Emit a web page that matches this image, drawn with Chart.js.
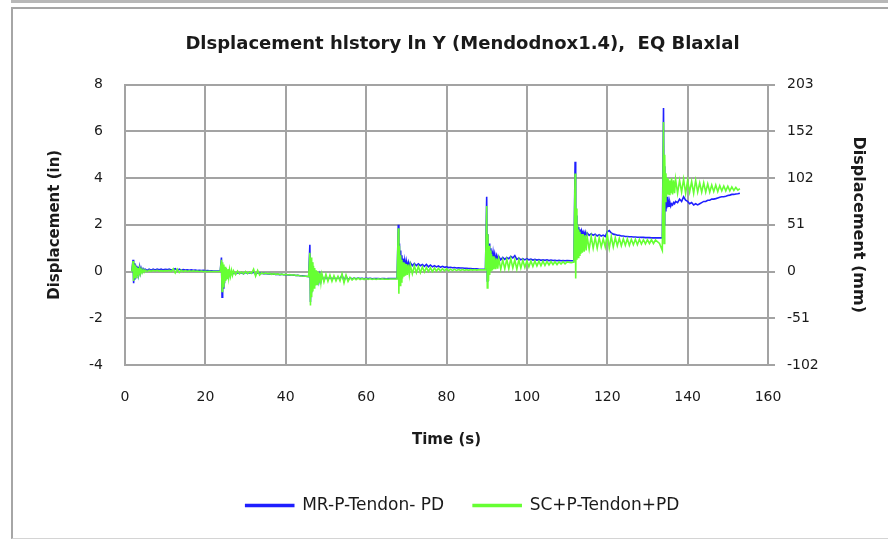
<!DOCTYPE html>
<html>
<head>
<meta charset="utf-8">
<script src="https://cdn.jsdelivr.net/npm/chart.js@4.4.1/dist/chart.umd.min.js"></script>
<style>
  html, body { margin: 0; padding: 0; background: #ffffff; }
  #wrap { position: relative; width: 888px; height: 540px; overflow: hidden; background: #ffffff; }
  #band { position: absolute; left: 11px; top: 0; right: 0; height: 3px; background: #b8b8b8; }
  #frame { position: absolute; left: 11px; top: 7px; width: 890px; height: 529px;
           border-left: 2px solid #a6a6a6; border-top: 2px solid #a6a6a6; border-bottom: 1px solid #d4d4d4; }
  canvas { position: absolute; left: 0; top: 0; }
</style>
</head>
<body>
<div id="wrap">
  <div id="band"></div>
  <div id="frame"></div>
  <canvas id="c" width="888" height="540"></canvas>
</div>
<script>
// ---- DATA ----
const titleText = 'Dlsplacement hlstory ln Y (Mendodnox1.4),  EQ Blaxlal';
const seriesNames = ['MR-P-Tendon- PD', 'SC+P-Tendon+PD'];
const xTicks = [0, 20, 40, 60, 80, 100, 120, 140, 160];
const leftTicks = [-4, -2, 0, 2, 4, 6, 8];
const rightTickLabels = ['-102', '-51', '0', '51', '102', '152', '203'];

// start time (s) of each shaking event
const eventStarts = [2, 24, 46, 68, 90, 112, 134];
// time offsets (s) from an event start at which values were read
const offsets = [-0.3, 0, 0.15, 0.3, 0.45, 0.6, 0.75, 0.9, 1.05, 1.2, 1.4, 1.6, 1.8, 2.0, 2.25, 2.5, 2.75, 3.0, 3.5, 4.0, 4.5,
                 5, 5.5, 6, 6.5, 7, 7.5, 8, 8.5, 9, 9.5, 10, 10.5, 11, 11.5, 12, 12.5, 13, 13.5, 14, 14.5,
                 15, 15.5, 16, 16.5, 17, 17.5, 18, 18.5, 19, 19.5, 20, 21];

// MR-P-Tendon- PD displacement (in), one array per event
const mr1 = [0.02, 0.5, -0.5, 0.35, -0.35, 0.3, -0.25, 0.25, -0.15, 0.2, -0.1, 0.18, -0.05, 0.15, 0.0, 0.12, 0.03, 0.1, 0.05, 0.1, 0.06,
             0.1, 0.07, 0.1, 0.08, 0.1, 0.07, 0.09, 0.08, 0.1, 0.07, 0.09, 0.12, 0.04, 0.1, 0.06, 0.08, 0.06, 0.07, 0.05, 0.07,
             0.05, 0.06, 0.04, 0.05, 0.04, 0.05, 0.03, 0.04, 0.03, 0.03, 0.02, 0.02];
const mr2 = [0.02, 0.6, -1.1, 0.2, -0.7, 0.1, -0.5, 0.05, -0.35, 0.02, -0.25, 0.0, -0.2, -0.02, -0.15, -0.03, -0.12, -0.04, -0.1, -0.05, -0.08,
             -0.05, -0.1, -0.04, -0.08, -0.05, -0.07, -0.02, -0.12, -0.05, -0.08, -0.07, -0.09, -0.08, -0.1, -0.09, -0.11, -0.1, -0.12, -0.11, -0.13,
             -0.12, -0.14, -0.13, -0.15, -0.14, -0.16, -0.15, -0.17, -0.16, -0.18, -0.18, -0.2];
const mr3 = [-0.22, 1.15, -1.3, 0.4, -0.9, 0.2, -0.7, 0.1, -0.55, 0.0, -0.5, -0.05, -0.45, -0.1, -0.42, -0.15, -0.4, -0.18, -0.38, -0.2, -0.36,
             -0.22, -0.34, -0.24, -0.33, -0.25, -0.32, -0.15, -0.4, -0.2, -0.36, -0.27, -0.32, -0.28, -0.31, -0.28, -0.3, -0.29, -0.31, -0.29, -0.3,
             -0.29, -0.31, -0.3, -0.3, -0.3, -0.31, -0.3, -0.3, -0.31, -0.3, -0.3, -0.3];
const mr4 = [-0.3, 2.0, -0.6, 1.2, -0.3, 0.9, -0.1, 0.7, 0.0, 0.55, 0.1, 0.45, 0.15, 0.45, 0.2, 0.4, 0.22, 0.38, 0.25, 0.35, 0.25,
             0.33, 0.25, 0.3, 0.22, 0.3, 0.2, 0.28, 0.2, 0.25, 0.2, 0.24, 0.18, 0.22, 0.18, 0.2, 0.17, 0.18, 0.16, 0.17, 0.15,
             0.16, 0.15, 0.15, 0.14, 0.14, 0.13, 0.13, 0.12, 0.12, 0.12, 0.11, 0.1];
const mr5 = [0.1, 3.2, -0.4, 1.6, 0.0, 1.2, 0.2, 1.0, 0.35, 0.9, 0.45, 0.8, 0.5, 0.75, 0.5, 0.7, 0.55, 0.65, 0.5, 0.6, 0.52,
             0.6, 0.55, 0.65, 0.58, 0.68, 0.52, 0.58, 0.5, 0.55, 0.5, 0.55, 0.5, 0.53, 0.49, 0.52, 0.49, 0.51, 0.48, 0.5, 0.48,
             0.5, 0.47, 0.49, 0.47, 0.48, 0.46, 0.48, 0.46, 0.47, 0.46, 0.47, 0.46];
const mr6 = [0.46, 4.7, 0.6, 2.4, 1.0, 2.0, 1.3, 1.9, 1.5, 1.8, 1.6, 1.75, 1.6, 1.7, 1.55, 1.7, 1.55, 1.65, 1.55, 1.62, 1.55,
             1.6, 1.52, 1.58, 1.52, 1.56, 1.5, 1.7, 1.75, 1.65, 1.6, 1.58, 1.55, 1.55, 1.52, 1.52, 1.5, 1.5, 1.49, 1.49, 1.48,
             1.48, 1.47, 1.47, 1.46, 1.46, 1.45, 1.45, 1.45, 1.44, 1.44, 1.44, 1.44];
const mr7 = [1.44, 7.0, 2.0, 4.5, 2.6, 3.6, 2.7, 3.2, 2.75, 3.0, 2.8, 2.95, 2.8, 2.9, 2.85, 2.95, 2.9, 3.0, 2.95, 3.1, 3.0,
             3.2, 3.05, 3.0, 2.9, 2.95, 2.85, 2.9, 2.85, 2.9, 2.95, 3.0, 3.0, 3.05, 3.05, 3.1, 3.1, 3.12, 3.15, 3.18, 3.2,
             3.2, 3.22, 3.25, 3.27, 3.3, 3.3, 3.32, 3.33, 3.35];

// SC+P-Tendon+PD displacement (in), one array per event
const sc1 = [0.0, 0.45, -0.4, 0.3, -0.3, 0.25, -0.25, 0.2, -0.15, 0.15, -0.12, 0.12, -0.08, 0.1, -0.05, 0.08, -0.02, 0.07, 0.0, 0.06, 0.01,
             0.05, 0.02, 0.05, 0.02, 0.04, 0.02, 0.04, 0.03, 0.05, 0.0, 0.12, -0.06, 0.1, -0.04, 0.06, 0.0, 0.04, 0.01, 0.03, 0.01,
             0.03, 0.01, 0.02, 0.0, 0.02, 0.0, 0.01, 0.0, 0.01, 0.0, 0.0, 0.0];
const sc2 = [0.0, 0.5, -0.85, 0.4, -0.65, 0.3, -0.5, 0.2, -0.4, 0.15, -0.3, 0.1, -0.25, 0.08, -0.2, 0.05, -0.16, 0.03, -0.13, 0.02, -0.1,
             -0.02, -0.1, 0.0, -0.09, -0.02, -0.08, 0.1, -0.2, 0.05, -0.15, -0.05, -0.1, -0.06, -0.1, -0.08, -0.12, -0.09, -0.12, -0.1, -0.13,
             -0.11, -0.14, -0.12, -0.15, -0.13, -0.16, -0.14, -0.17, -0.16, -0.18, -0.19, -0.2];
const sc3 = [-0.22, 0.8, -1.45, 0.6, -1.1, 0.4, -0.85, 0.25, -0.7, 0.15, -0.6, 0.05, -0.55, 0.0, -0.5, -0.05, -0.48, -0.1, -0.45, -0.12, -0.42,
             -0.15, -0.42, -0.18, -0.4, -0.2, -0.4, -0.1, -0.48, -0.15, -0.42, -0.25, -0.36, -0.27, -0.35, -0.28, -0.34, -0.29, -0.34, -0.3, -0.34,
             -0.3, -0.34, -0.31, -0.34, -0.31, -0.33, -0.31, -0.33, -0.32, -0.33, -0.32, -0.32];
const sc4 = [-0.32, 1.85, -0.95, 1.1, -0.6, 0.7, -0.45, 0.5, -0.3, 0.4, -0.22, 0.35, -0.18, 0.32, -0.15, 0.3, -0.12, 0.28, -0.1, 0.25, -0.05,
             0.22, -0.05, 0.2, -0.02, 0.18, 0.0, 0.16, 0.0, 0.15, 0.02, 0.14, 0.02, 0.12, 0.03, 0.12, 0.03, 0.1, 0.04, 0.1, 0.04,
             0.09, 0.05, 0.09, 0.05, 0.08, 0.05, 0.08, 0.06, 0.08, 0.06, 0.07, 0.07];
const sc5 = [0.07, 2.8, -0.7, 1.6, -0.4, 1.1, -0.15, 0.9, 0.0, 0.75, 0.05, 0.65, 0.1, 0.6, 0.1, 0.55, 0.12, 0.55, 0.1, 0.5, 0.12,
             0.52, 0.12, 0.55, 0.15, 0.5, 0.1, 0.5, 0.15, 0.48, 0.18, 0.46, 0.2, 0.45, 0.22, 0.45, 0.24, 0.44, 0.25, 0.44, 0.26,
             0.43, 0.28, 0.43, 0.3, 0.42, 0.3, 0.42, 0.32, 0.42, 0.33, 0.41, 0.38];
const sc6 = [0.4, 4.2, -0.3, 2.7, 0.5, 2.0, 0.6, 1.8, 0.7, 1.7, 0.75, 1.6, 0.8, 1.6, 0.85, 1.55, 0.9, 1.5, 0.95, 1.5, 1.0,
             1.45, 1.0, 1.45, 1.05, 1.4, 1.05, 1.6, 1.0, 1.5, 1.05, 1.45, 1.1, 1.42, 1.1, 1.4, 1.12, 1.4, 1.12, 1.38, 1.15,
             1.38, 1.15, 1.38, 1.18, 1.36, 1.18, 1.36, 1.2, 1.36, 1.2, 1.35, 1.2];
const sc7 = [0.9, 6.4, 1.2, 5.0, 3.0, 4.2, 3.2, 4.0, 3.3, 3.95, 3.3, 3.9, 3.35, 4.0, 3.3, 3.9, 3.35, 3.95, 3.35, 3.9, 3.4,
             3.95, 3.35, 3.9, 3.4, 3.85, 3.35, 3.9, 3.4, 3.8, 3.4, 3.8, 3.4, 3.75, 3.4, 3.7, 3.42, 3.7, 3.42, 3.68, 3.45,
             3.66, 3.45, 3.65, 3.45, 3.62, 3.47, 3.6, 3.48, 3.55];

// ---- build point lists ----
function buildPoints(eventArrays) {
  const pts = [];
  eventArrays.forEach((vals, e) => {
    vals.forEach((v, i) => pts.push({ x: eventStarts[e] + offsets[i], y: v }));
  });
  return pts;
}
const mrPoints = buildPoints([mr1, mr2, mr3, mr4, mr5, mr6, mr7]);
const scPoints = buildPoints([sc1, sc2, sc3, sc4, sc5, sc6, sc7]);

const FONT = 'DejaVu Sans';
const TXT = '#1a1a1a';
const GRID = '#a3a3a3';
const PAD_L = 42, PAD_R = 5, PAD_B = 16;

const ctx = document.getElementById('c');
new Chart(ctx, {
  type: 'line',
  data: {
    datasets: [
      { label: seriesNames[0], data: mrPoints, borderColor: '#1f1fff', backgroundColor: '#1f1fff',
        borderWidth: 1.6, pointRadius: 0, tension: 0, order: 1, yAxisID: 'y' },
      { label: seriesNames[1], data: scPoints, borderColor: '#66ff33', backgroundColor: '#66ff33',
        borderWidth: 1.6, pointRadius: 0, tension: 0, order: 0, yAxisID: 'y' }
    ]
  },
  options: {
    responsive: false,
    animation: false,
    devicePixelRatio: 1,
    layout: { padding: { left: PAD_L, right: PAD_R, top: 0, bottom: PAD_B } },
    plugins: {
      tooltip: { enabled: false },
      title: { display: true, text: titleText, color: TXT,
               font: { family: FONT, size: 18, weight: 'bold' }, padding: { top: 34, bottom: 29 } },
      legend: { position: 'bottom',
                labels: { color: TXT, font: { family: FONT, size: 17 }, boxWidth: 48, boxHeight: 2,
                          padding: 29, sort: (a, b) => a.datasetIndex - b.datasetIndex } }
    },
    scales: {
      x: { type: 'linear', min: 0, max: 160,
           afterBuildTicks: s => { s.ticks = xTicks.map(v => ({ value: v })); },
           afterFit: s => { s.height = 540 - PAD_B - s.chart.legend.height - 365; },
           grid: { color: GRID, lineWidth: 2, drawTicks: false },
           border: { color: GRID, width: 2 },
           ticks: { color: TXT, font: { family: FONT, size: 14 }, padding: 24, maxRotation: 0 },
           title: { display: true, text: 'Time (s)', color: TXT, font: { family: FONT, size: 15, weight: 'bold' },
                    padding: { top: 4, bottom: 19 } } },
      y: { type: 'linear', position: 'left', min: -4, max: 8,
           afterBuildTicks: s => { s.ticks = leftTicks.map(v => ({ value: v })); },
           afterFit: s => { s.width = 125 - PAD_L; },
           grid: { color: GRID, lineWidth: 2, drawTicks: false },
           border: { color: GRID, width: 2 },
           ticks: { color: TXT, font: { family: FONT, size: 14 }, padding: 22 },
           title: { display: true, text: 'Displacement (in)', color: TXT, font: { family: FONT, size: 15, weight: 'bold' },
                    padding: { top: 4, bottom: 4 } } },
      y2: { type: 'linear', position: 'right', min: -4, max: 8,
            afterBuildTicks: s => { s.ticks = leftTicks.map(v => ({ value: v })); },
            afterFit: s => { s.width = 888 - PAD_R - 768; },
            grid: { color: GRID, lineWidth: 2, drawOnChartArea: false, drawTicks: true, tickLength: 7 },
            border: { color: GRID, width: 2 },
            ticks: { color: TXT, font: { family: FONT, size: 14 }, padding: 12,
                     callback: (v, i) => rightTickLabels[i] },
            title: { display: true, text: 'Displacement (mm)', color: TXT, font: { family: FONT, size: 16, weight: 'bold' },
                     padding: { top: 15, bottom: 15 } } }
    }
  }
});
</script>
</body>
</html>
